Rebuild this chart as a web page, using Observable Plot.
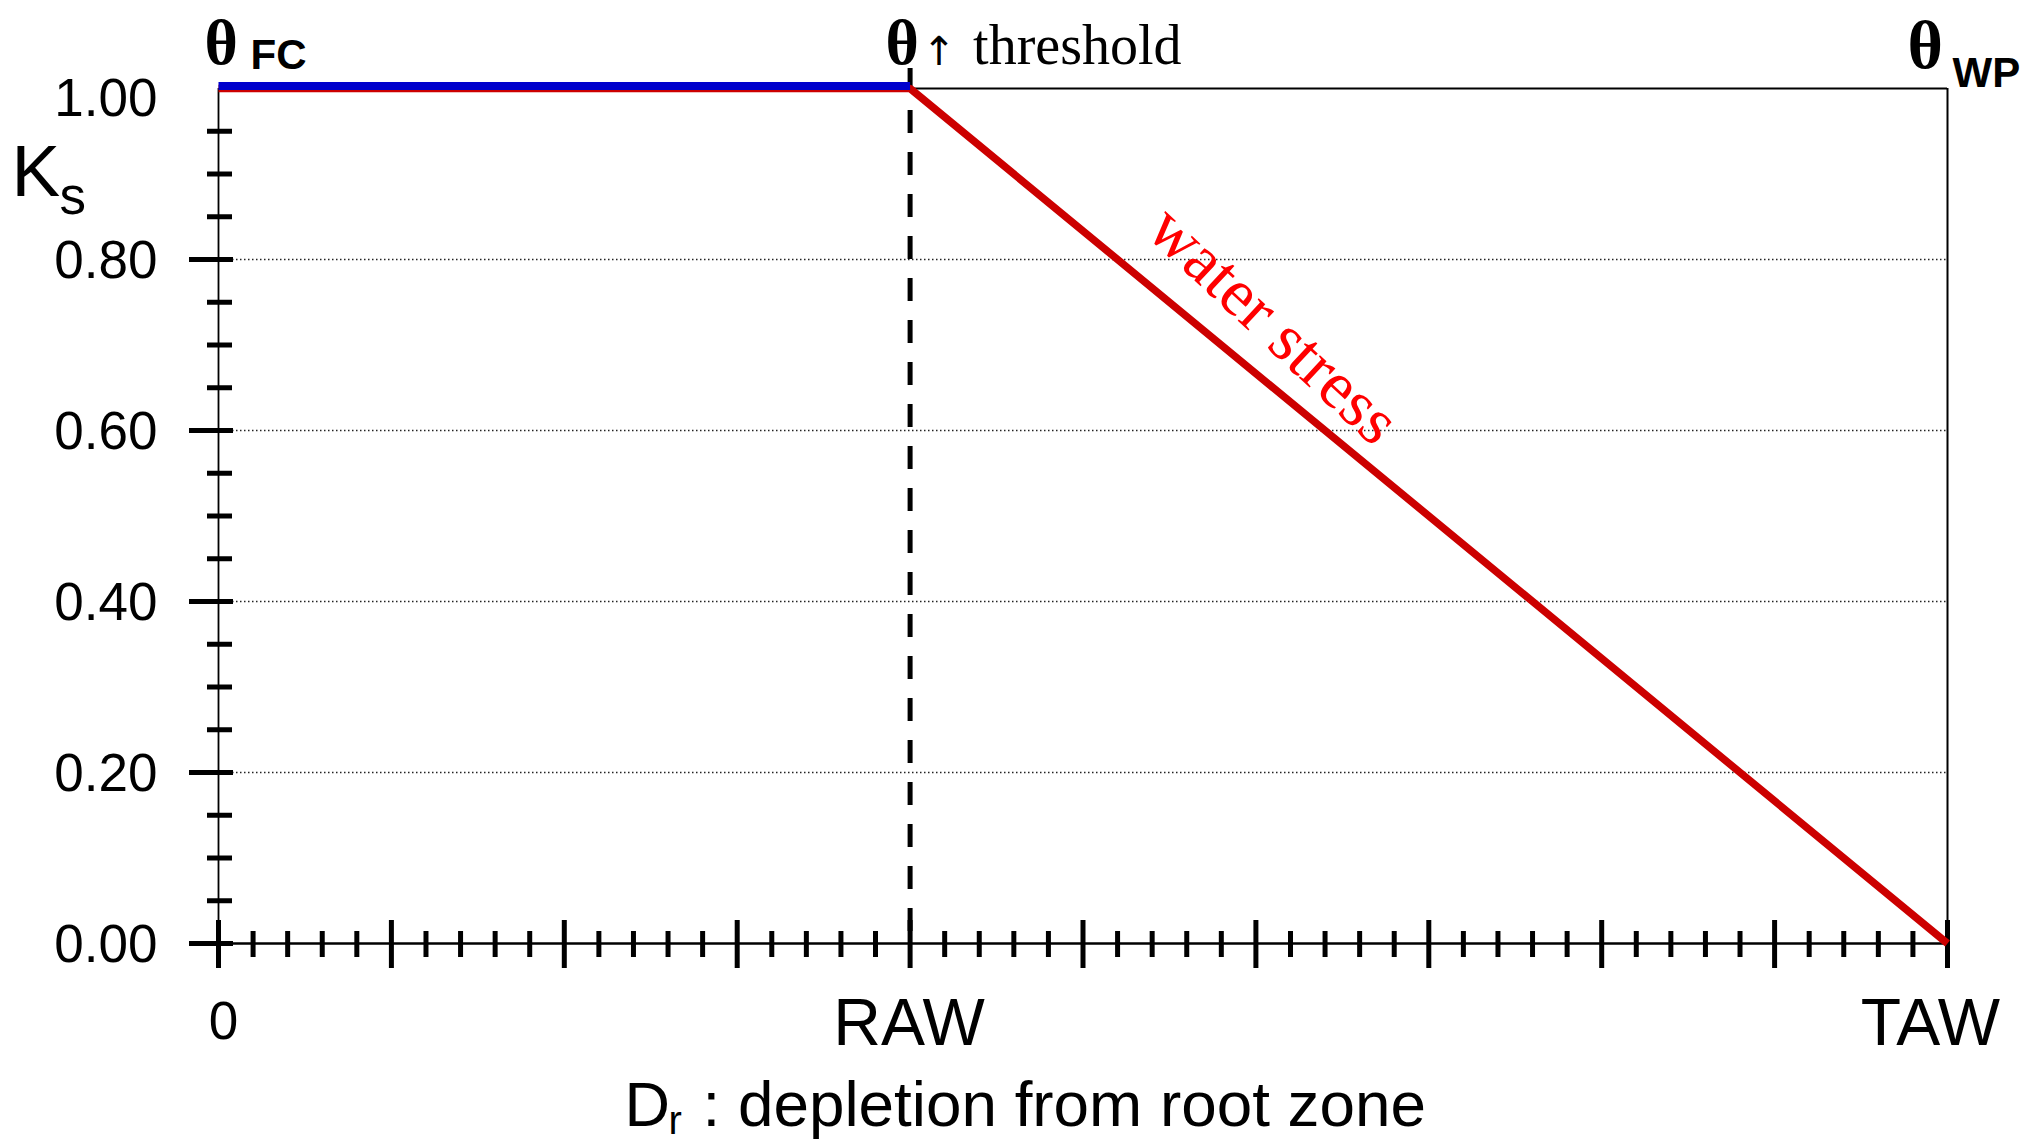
<!DOCTYPE html>
<html>
<head>
<meta charset="utf-8">
<script src="https://cdn.jsdelivr.net/npm/d3@7"></script>
<script src="https://cdn.jsdelivr.net/npm/@observablehq/plot@0.6"></script>
<style>
  html, body { margin: 0; padding: 0; background: #fff; }
  #chart svg { display: block; }
</style>
</head>
<body>
<div id="chart"></div>
<script>
// ---- data (depletion in tenths of TAW; RAW = 0.4 TAW) ----
const RAW = 4;
const TAW = 10;
const depletion = [0, RAW, TAW];
const ksValues = [1, 1, 0];
const noStressDepletion = [0, RAW];
const noStressKs = [1, 1];

// ---- tick values & labels ----
const yLabelValues = [0.8, 0.6, 0.4, 0.2, 0.0];
const yLabelTexts = ["0.80", "0.60", "0.40", "0.20", "0.00"];
const yTopLabelValue = 1.0;
const yTopLabelText = "1.00";
const yMajorTicks = [0, 0.2, 0.4, 0.6, 0.8];
const yMinorTicks = [0.05, 0.1, 0.15, 0.25, 0.3, 0.35, 0.45, 0.5, 0.55, 0.65, 0.7, 0.75, 0.85, 0.9, 0.95];
const gridValues = [0.2, 0.4, 0.6, 0.8];
const xMajorTicks = [0, 1, 2, 3, 4, 5, 6, 7, 8, 9, 10];
const xMinorTicks = d3.range(0, 10, 0.2).filter(v => Math.abs(v - Math.round(v)) > 1e-6);
const xLabelValues = [0, RAW, TAW];
const xLabelTexts = ["0", "RAW", "TAW"];

const SANS = "Liberation Sans, Arial, Helvetica, sans-serif";
const SERIF = "Liberation Serif, Times New Roman, serif";

const lineData = depletion.map((d, i) => ({d, ks: ksValues[i]}));
const blueData = noStressDepletion.map((d, i) => ({d, ks: noStressKs[i]}));

const plot = Plot.plot({
  width: 2034,
  height: 1143,
  marginLeft: 218,
  marginRight: 87,
  marginTop: 88,
  marginBottom: 200,
  style: {background: "#fff", fontFamily: SANS},
  x: {domain: [0, TAW], axis: null},
  y: {domain: [0, 1], axis: null},
  marks: [
    // dotted gridlines
    Plot.ruleY(gridValues, {y: d => d, x1: 0, x2: TAW, insetLeft: 14, stroke: "#222", strokeWidth: 1.5, strokeDasharray: "1.5,2.5"}),
    // frame: right and top (from RAW)
    Plot.ruleX([TAW], {x: d => d, y1: 1, y2: 0, stroke: "#000", strokeWidth: 2}),
    Plot.ruleY([1], {y: d => d, x1: RAW, x2: TAW, stroke: "#000", strokeWidth: 2}),
    // y axis line
    Plot.ruleX([0], {x: d => d, y1: 1, y2: 0, stroke: "#000", strokeWidth: 1.8}),
    // x axis line
    Plot.ruleY([0], {y: d => d, x1: 0, x2: TAW, stroke: "#000", strokeWidth: 2.5}),
    // y ticks
    Plot.ruleY(yMinorTicks, {y: d => d, x1: 0, x2: 0, insetLeft: -11, insetRight: -14, stroke: "#000", strokeWidth: 5}),
    Plot.ruleY(yMajorTicks, {y: d => d, x1: 0, x2: 0, insetLeft: -29, insetRight: -15, stroke: "#000", strokeWidth: 5}),
    // x ticks
    Plot.ruleX(xMinorTicks, {x: d => d, y1: 0, y2: 0, insetTop: -12, insetBottom: -14, stroke: "#000", strokeWidth: 5}),
    Plot.ruleX(xMajorTicks, {x: d => d, y1: 0, y2: 0, insetTop: -23, insetBottom: -25, stroke: "#000", strokeWidth: 5}),
    // RAW dashed threshold line
    Plot.ruleX([RAW], {x: d => d, y1: 1, y2: 0, insetTop: -20, stroke: "#000", strokeWidth: 5, strokeDasharray: "23,19"}),
    // Ks curve (red) and no-stress segment (blue)
    Plot.line(lineData, {x: "d", y: "ks", stroke: "#cc0000", strokeWidth: 7.5, strokeLinejoin: "miter", strokeLinecap: "butt"}),
    Plot.line(blueData, {x: "d", y: "ks", stroke: "#0000cc", strokeWidth: 8, dy: -2.5, strokeLinecap: "butt"}),
    // y tick labels
    Plot.text(yLabelValues, {x: 0, y: d => d, text: (d, i) => yLabelTexts[i], textAnchor: "end", dx: -61, dy: 2, fontSize: 53, fill: "#000"}),
    Plot.text([yTopLabelValue], {x: 0, y: d => d, text: () => yTopLabelText, textAnchor: "end", dx: -61, dy: 11, fontSize: 53, fill: "#000"}),
    // x tick labels
    Plot.text([xLabelValues[0]], {x: d => d, y: 0, text: () => xLabelTexts[0], dx: 5, dy: 79, fontSize: 53, fill: "#000"}),
    Plot.text([xLabelValues[1]], {x: d => d, y: 0, text: () => xLabelTexts[1], dx: -1, dy: 80, fontSize: 66, fill: "#000"}),
    Plot.text([xLabelValues[2]], {x: d => d, y: 0, text: () => xLabelTexts[2], dx: -17, dy: 80, fontSize: 66, fill: "#000"}),
    // x axis title: D_r : depletion from root zone
    Plot.text(["D"], {frameAnchor: "bottom-left", text: d => d, textAnchor: "start", lineAnchor: "bottom", dx: 406, dy: 182, fontSize: 63, fill: "#000"}),
    Plot.text(["r"], {frameAnchor: "bottom-left", text: d => d, textAnchor: "start", lineAnchor: "bottom", dx: 450, dy: 190, fontSize: 40, fill: "#000"}),
    Plot.text([": depletion from root zone"], {frameAnchor: "bottom-left", text: d => d, textAnchor: "start", lineAnchor: "bottom", dx: 484, dy: 182, fontSize: 63.8, fill: "#000"}),
    // y axis title K_s
    Plot.text(["K"], {frameAnchor: "top-left", text: d => d, textAnchor: "start", lineAnchor: "bottom", dx: -207, dy: 107, fontSize: 73, fill: "#000"}),
    Plot.text(["s"], {frameAnchor: "top-left", text: d => d, textAnchor: "start", lineAnchor: "bottom", dx: -159, dy: 125, fontSize: 53, fill: "#000"}),
    // θ FC
    Plot.text(["θ"], {x: 0, y: 1, text: d => d, textAnchor: "start", lineAnchor: "bottom", dx: -14, dy: -25, fontSize: 64, fontWeight: "bold", fontFamily: SERIF, fill: "#000"}),
    Plot.text(["FC"], {x: 0, y: 1, text: d => d, textAnchor: "start", lineAnchor: "bottom", dx: 32, dy: -20, fontSize: 42, fontWeight: "bold", fill: "#000"}),
    // θ threshold
    Plot.text(["θ"], {x: RAW, y: 1, text: d => d, textAnchor: "middle", lineAnchor: "bottom", dx: -8, dy: -25, fontSize: 64, fontWeight: "bold", fontFamily: SERIF, fill: "#000"}),
    Plot.text(["↑"], {x: RAW, y: 1, text: d => d, textAnchor: "middle", lineAnchor: "bottom", dx: 29, dy: -24, fontSize: 40, fontFamily: "DejaVu Sans", fill: "#000"}),
    Plot.text(["threshold"], {x: RAW, y: 1, text: d => d, textAnchor: "start", lineAnchor: "bottom", dx: 63, dy: -25, fontSize: 56, fontFamily: SERIF, fill: "#000"}),
    // θ WP
    Plot.text(["θ"], {x: TAW, y: 1, text: d => d, textAnchor: "start", lineAnchor: "bottom", dx: -40, dy: -21, fontSize: 68, fontWeight: "bold", fontFamily: SERIF, fill: "#000"}),
    Plot.text(["WP"], {x: TAW, y: 1, text: d => d, textAnchor: "start", lineAnchor: "bottom", dx: 5, dy: -2, fontSize: 42, fontWeight: "bold", fill: "#000"}),
    // water stress label along the declining segment
    Plot.text(["water stress"], {x: (RAW + TAW) / 2, y: 0.5, text: d => d, textAnchor: "middle", lineAnchor: "middle", rotate: 43, dx: -155, dy: -191, fontSize: 67, fontFamily: SERIF, fill: "#ff0000"})
  ]
});
document.getElementById("chart").appendChild(plot);
</script>
</body>
</html>
